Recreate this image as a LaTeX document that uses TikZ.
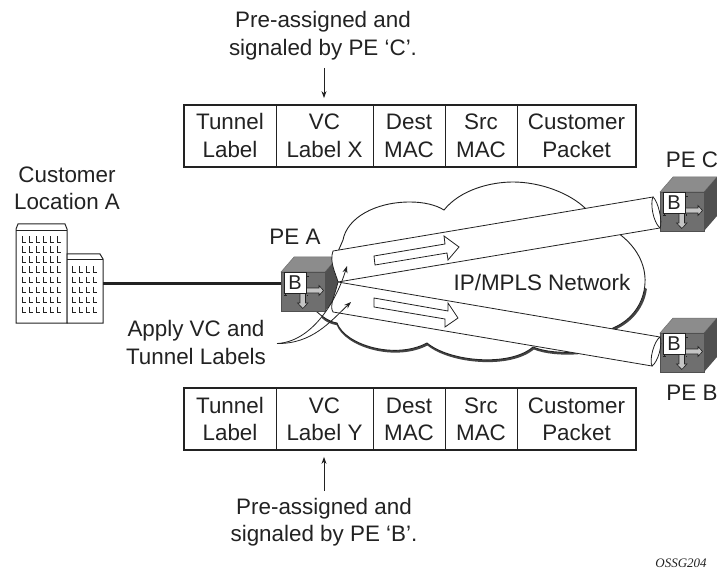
\documentclass[tikz,border=0pt]{standalone}
\usepackage{fontspec}
\setmainfont{Liberation Sans}
\newfontfamily\figserif{Liberation Serif}
\usetikzlibrary{arrows.meta}
\definecolor{ink}{HTML}{222222}
\definecolor{cubetop}{HTML}{8C8C8C}
\definecolor{cubefront}{HTML}{6F6F6F}
\definecolor{cubeside}{HTML}{505050}
\definecolor{portfill}{HTML}{C4C4C4}
\newcommand{\twolines}[2]{\rule[-5pt]{0pt}{25.5pt}#1\\\rule[-5pt]{0pt}{25.5pt}#2}
\tikzset{
  lbl/.style={text=ink,inner sep=0pt,align=center,font=\fontsize{22.4}{27.5}\selectfont},
  cell/.style={draw=ink,line width=0.8pt,inner sep=0pt,align=center,text=ink,font=\fontsize{22.4}{27.5}\selectfont,minimum height=61pt},
  outline/.style={draw=ink,line width=0.8pt},
  note/.style={draw=ink,line width=0.8pt,-{Stealth[length=7pt,width=5pt]}},
  shade/.style={draw=ink!85,line width=2.4pt,line cap=round},
  win/.style={draw=ink,line width=0.7pt},
  pepic/.pic={
    \fill[cubetop,draw=cubefront,line width=0.5pt] (0,0)--(13,-15)--(57,-15)--(44,0)--cycle;
    \fill[cubefront] (0,0) rectangle (44,39);
    \fill[cubeside] (44,0)--(57,-15)--(57,24)--(44,39)--cycle;
    \draw[cubeside,line width=0.6pt] (0,0) rectangle (44,39);
    \draw[ink,line width=0.6pt,fill=portfill] (25,16)--(38,16)--(38,13.5)--(42.5,18.5)--(38,23.5)--(38,21)--(25,21);
    \draw[ink,line width=0.6pt,fill=portfill] (19,21)--(19,31)--(16.5,31)--(21.8,36.5)--(27,31)--(24.5,31)--(24.5,21);
    \draw[ink,line width=0.9pt] (25.5,4.5)--(27.5,4.5) (26,22.5)--(26,24) (4,22)--(4,24) (3,23)--(6,23);
    \node[draw=ink,line width=0.8pt,fill=white,minimum width=22pt,minimum height=21pt,inner sep=0pt,text=ink,font=\fontsize{20}{20}\selectfont] at (14,11) {B};
  }
}
\begin{document}
\begin{tikzpicture}[x=1pt,y=-1pt]
\useasboundingbox (0,0) rectangle (717,569);
% cloud shadow: the lower arcs of the outline, pushed slightly down
\begin{scope}[shift={(0.6,1.1)}]
\draw[shade] (645,288) .. controls (643,304) and (632,320) .. (613,328);
\draw[shade] (533,347) .. controls (510,367) and (450,362) .. (427,343);
\draw[shade] (427,343) .. controls (395,360) and (345,345) .. (337,323);
\draw[shade] (577,352) .. controls (562,353) and (545,352) .. (533,347);
\draw[shade] (337,323) .. controls (331,322) and (326,320) .. (322,316);
\end{scope}
% cloud
\draw[outline,fill=white,line width=0.9pt] (343,240)
  .. controls (347,218) and (375,202) .. (410,202)
  .. controls (424,202) and (436,205) .. (444,210)
  .. controls (460,190) and (490,182) .. (513,182)
  .. controls (540,182) and (570,193) .. (586,209)
  -- (618,233)
  .. controls (636,246) and (646,264) .. (645,283)
  .. controls (644,303) and (632,320) .. (613,328)
  -- (577,352)
  .. controls (562,353) and (545,352) .. (533,347)
  .. controls (510,367) and (450,362) .. (427,343)
  .. controls (395,360) and (345,345) .. (337,323)
  .. controls (330,322) and (322,317) .. (315,310)
  -- (330,270) -- cycle;
% building
\draw[win,fill=white,line width=1pt] (16,323) -- (16,229) -- (18,224) -- (65,224) -- (67,229) -- (67,323) -- cycle;
\draw[win,line width=0.8pt] (16,230) -- (67,230);
\draw[win,fill=white,line width=1pt] (67,323) -- (67,254) -- (100,254) -- (103,259) -- (103,323) -- cycle;
\draw[win,line width=0.8pt] (67,259) -- (103,259);
\foreach \r in {0,...,7}{\foreach \c in {0,...,5}{
  \draw[win] ({22.5+\c*7},{236.5+\r*10}) -- ++(0,6) -- ++(3.6,0);}}
\foreach \r in {0,...,4}{\foreach \c in {0,...,3}{
  \draw[win] ({72.5+\c*7},{266.5+\r*10}) -- ++(0,6) -- ++(3.6,0);}}
\coordinate (siteport) at (103,283.5);
% PE cubes
\coordinate (peportA) at (284,283.5);
\draw[ink,line width=2.4pt] (siteport) -- (peportA);
\pic at (281,272) {pepic};
\pic at (660,192) {pepic};
\pic at (660,333) {pepic};
% tubes
\draw[outline,fill=white] (333,251) -- (653,197)
  .. controls (650,203) and (653,222) .. (660,228)
  -- (338,282) .. controls (336,274) and (329,262) .. (333,251) -- cycle;
\draw[outline] (653,197) .. controls (658,201) and (663,222) .. (660,228);
\draw[outline,fill=white] (338,282) -- (660,337)
  .. controls (654,341) and (649,360) .. (652,366)
  -- (333,312) .. controls (329,306) and (335,295) .. (338,282) -- cycle;
\draw[outline] (660,337) .. controls (663,344) and (658,362) .. (652,366);
% flow arrows
\draw[outline,fill=white] (374,256)--(445,244)--(444,236)--(459,247)--(448,260)--(447,253)--(375,265)--cycle;
\draw[outline,fill=white] (374,298)--(448,311)--(448,303)--(458,318)--(445,327)--(445,319)--(374,307)--cycle;
% tables
\node[cell,minimum width=92pt] (ta) at (230,136) {\twolines{Tunnel}{Label}};
\node[cell,minimum width=97pt] (tb) at (324.5,136) {\twolines{VC}{Label X}};
\node[cell,minimum width=72pt] (tc) at (409,136) {\twolines{Dest}{MAC}};
\node[cell,minimum width=72pt] (td) at (481,136) {\twolines{Src}{MAC}};
\node[cell,minimum width=119pt] (te) at (576.5,136) {\twolines{Customer}{Packet}};
\draw[ink,line width=1.9pt] (ta.north west) rectangle (te.south east);
\node[cell,minimum width=92pt] (ba) at (230,419) {\twolines{Tunnel}{Label}};
\node[cell,minimum width=97pt] (bb) at (324.5,419) {\twolines{VC}{Label Y}};
\node[cell,minimum width=72pt] (bc) at (409,419) {\twolines{Dest}{MAC}};
\node[cell,minimum width=72pt] (bd) at (481,419) {\twolines{Src}{MAC}};
\node[cell,minimum width=119pt] (be) at (576.5,419) {\twolines{Customer}{Packet}};
\draw[ink,line width=1.9pt] (ba.north west) rectangle (be.south east);
% labels
\node[lbl] (ntop) at (323,35.5) {Pre-assigned and\\signaled by PE ‘C’.};
\node[lbl] (nbot) at (324,522) {Pre-assigned and\\signaled by PE ‘B’.};
\node[lbl] (cust) at (67,188.5) {Customer\\Location A};
\node[lbl] (pea) at (295,237) {PE A};
\node[lbl] (pec) at (692,160) {PE C};
\node[lbl] (peb) at (692,393) {PE B};
\node[lbl] (apply) at (196,342.5) {Apply VC and\\Tunnel Labels};
\node[lbl] (net) at (542,282) {IP/MPLS Network};
\node[text=ink,inner sep=0pt,font=\figserif\itshape\fontsize{13}{13}\selectfont] (fig) at (681,563) {OSSG204};
% connectors
\coordinate (ca) at (324,68);
\coordinate (cb) at (324,491);
\coordinate (cc) at (277,343.5);
\coordinate (cd) at (347,266);
\coordinate (ce) at (351,302);
\draw[note,shorten >=7pt] (ca) -- (ca |- tb.north);
\draw[note,shorten >=7pt] (cb) -- (cb |- bb.south);
\draw[note] (cc) .. controls (310,342) and (335,305) .. (cd);
\draw[note] (cc) .. controls (312,344) and (330,322) .. (ce);
\end{tikzpicture}
\end{document}
